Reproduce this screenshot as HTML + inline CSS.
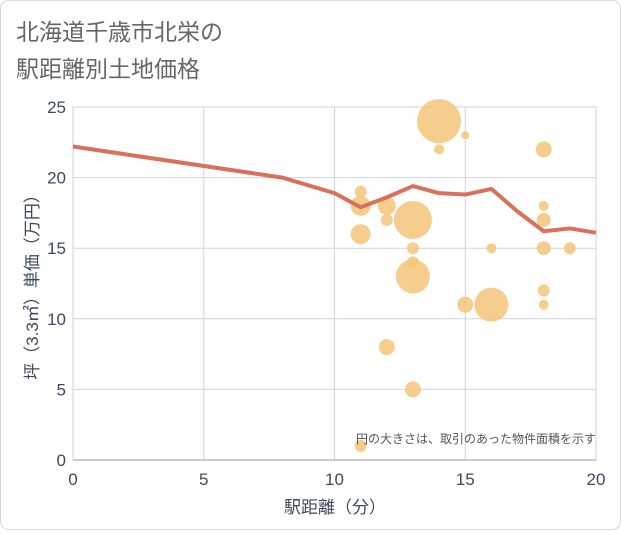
<!DOCTYPE html>
<html><head><meta charset="utf-8"><style>
body{margin:0;background:#fff;}
#wrap{position:relative;width:621px;height:530px;background:#fff;font-family:"Liberation Sans","Noto Sans CJK JP",sans-serif;}
</style></head><body>
<div id="wrap">
<svg id="svg" width="621" height="530" xmlns="http://www.w3.org/2000/svg">
<rect x="0.5" y="0.5" width="620" height="529" rx="8" fill="#fff" stroke="#d8d8d8"/>
<text x="16" y="40" font-size="23" fill="#666" font-family="Liberation Sans, Noto Sans CJK JP, sans-serif">北海道千歳市北栄の</text>
<text x="16" y="77" font-size="23" fill="#666" font-family="Liberation Sans, Noto Sans CJK JP, sans-serif">駅距離別土地価格</text>
<g id="grid"></g><g id="bubbles"></g><g id="line"></g><g id="axes"></g>
<text x="596" y="443" font-size="12" fill="#555" text-anchor="end" font-family="Liberation Sans, Noto Sans CJK JP, sans-serif">円の大きさは、取引のあった物件面積を示す</text>
<text x="335" y="513" font-size="17" fill="#3d4a5c" text-anchor="middle" font-family="Liberation Sans, Noto Sans CJK JP, sans-serif">駅距離（分）</text>
<text transform="translate(38,283) rotate(-90)" font-size="17" fill="#3d4a5c" text-anchor="middle" font-family="Liberation Sans, Noto Sans CJK JP, sans-serif">坪（3.3㎡）単価（万円）</text>
</svg></div>
<script>
const xTicks=[0,5,10,15,20];
const yTicks=[0,5,10,15,20,25];
const bubbleX=[14,15,14,18,11,11,12,18,12,13,18,11,13,16,18,19,13,13,18,15,16,18,12,13,11];
const bubbleY=[24,23,22,22,19,18,18,18,17,17,17,16,15,15,15,15,14,13,12,11,11,11,8,5,1];
const bubbleR=[22,4,5,8,6,10,9,5,6,19,7,10,6,5,7,6,6,17,6,8,17,5,8,8,6];
const lineX=[0,8,10,11,12,13,14,15,16,17,18,19,20];
const lineY=[22.2,20,18.9,17.9,18.6,19.4,18.9,18.8,19.2,17.6,16.2,16.4,16.1];
const X0=73,X1=596,Y0=460,Y1=107;
const sx=v=>X0+(X1-X0)*v/20, sy=v=>Y0-(Y0-Y1)*v/25;
const NS="http://www.w3.org/2000/svg";
function mk(t,a,p){const e=document.createElementNS(NS,t);for(const k in a)e.setAttribute(k,a[k]);p.appendChild(e);return e;}
const grid=document.getElementById('grid'),axes=document.getElementById('axes');
const pb=mk('rect',{x:X0,y:Y1,width:X1-X0,height:Y0-Y1,fill:'none',stroke:'#c8c8c8'},grid);


xTicks.forEach(v=>{const l=mk('line',{x1:sx(v),x2:sx(v),y1:Y1,y2:Y0,stroke:'#ccd6e0'},grid);


const t=mk('text',{x:sx(v),y:Y0+25,'font-size':17,fill:'#3d4a5c','text-anchor':'middle'},axes);t.textContent=v;

});
yTicks.forEach(v=>{const l=mk('line',{x1:X0,x2:X1,y1:sy(v),y2:sy(v),stroke:'#ccd6e0'},grid);


const t=mk('text',{x:X0-7,y:sy(v)+6,'font-size':17,fill:'#3d4a5c','text-anchor':'end'},axes);t.textContent=v;

});
const ax=mk('line',{x1:X0,x2:X1,y1:Y0,y2:Y0,stroke:'#999'},axes);


const bg=document.getElementById('bubbles');
bubbleX.forEach((x,i)=>{const c=mk('circle',{cx:sx(x),cy:sy(bubbleY[i]),r:bubbleR[i],fill:'#f3c57a','fill-opacity':0.85},bg);

});
const p=mk('polyline',{points:lineX.map((x,i)=>sx(x)+','+sy(lineY[i])).join(' '),fill:'none',stroke:'#d9705a','stroke-width':4,'stroke-linejoin':'round'},document.getElementById('line'));


</script>
</body></html>
